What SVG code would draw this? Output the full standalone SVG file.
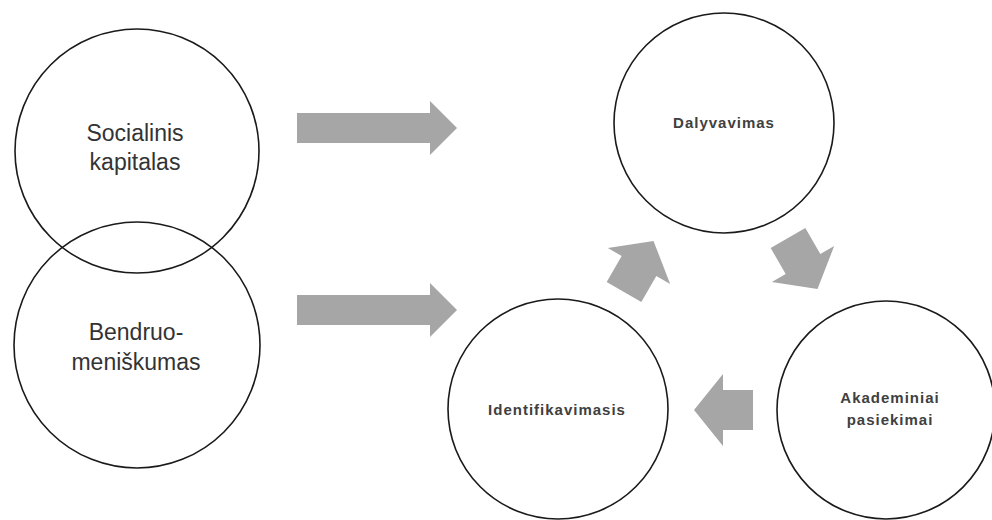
<svg xmlns="http://www.w3.org/2000/svg" width="992" height="520" viewBox="0 0 992 520">
<defs>
<style>
.node{fill:none;stroke:#1a1a1a;stroke-width:1.6}
.big{font-family:"Liberation Sans",Arial,sans-serif;font-size:23px;fill:#333;text-anchor:middle}
.small{font-family:"Liberation Sans",Arial,sans-serif;font-size:15px;font-weight:bold;letter-spacing:1px;fill:#404040;text-anchor:middle}
.arr{fill:#a6a6a6}
</style>
<path id="chunk" d="M-30,-20 L0,-20 L0,-36 L29,0 L0,36 L0,20 L-30,20 Z"/>
</defs>
<rect width="992" height="520" fill="#fff"/>
<g id="connectors">
<path class="arr" d="M297,113 L430,113 L430,101 L457,128 L430,155 L430,143 L297,143 Z"/>
<path class="arr" d="M297,295 L430,295 L430,283 L457,310 L430,337 L430,325 L297,325 Z"/>
<use href="#chunk" class="arr" transform="translate(639,266) rotate(-60)"/>
<use href="#chunk" class="arr" transform="translate(803,264) rotate(60)"/>
<use href="#chunk" class="arr" transform="translate(723,410) rotate(180)"/>
</g>
<g id="socialinis">
<circle class="node" cx="137" cy="151" r="122"/>
<text class="big" x="135" y="141">Socialinis</text>
<text class="big" x="135" y="170">kapitalas</text>
</g>
<g id="bendruomeniskumas">
<circle class="node" cx="137" cy="345" r="123"/>
<text class="big" x="136" y="340">Bendruo-</text>
<text class="big" x="136" y="370">meniškumas</text>
</g>
<g id="dalyvavimas">
<circle class="node" cx="724" cy="123" r="110"/>
<text class="small" x="724" y="128">Dalyvavimas</text>
</g>
<g id="akademiniai">
<circle class="node" cx="886" cy="410" r="109"/>
<text class="small" x="890" y="403">Akademiniai</text>
<text class="small" x="890" y="425">pasiekimai</text>
</g>
<g id="identifikavimasis">
<circle class="node" cx="558" cy="409" r="110"/>
<text class="small" x="557" y="415">Identifikavimasis</text>
</g>
</svg>
